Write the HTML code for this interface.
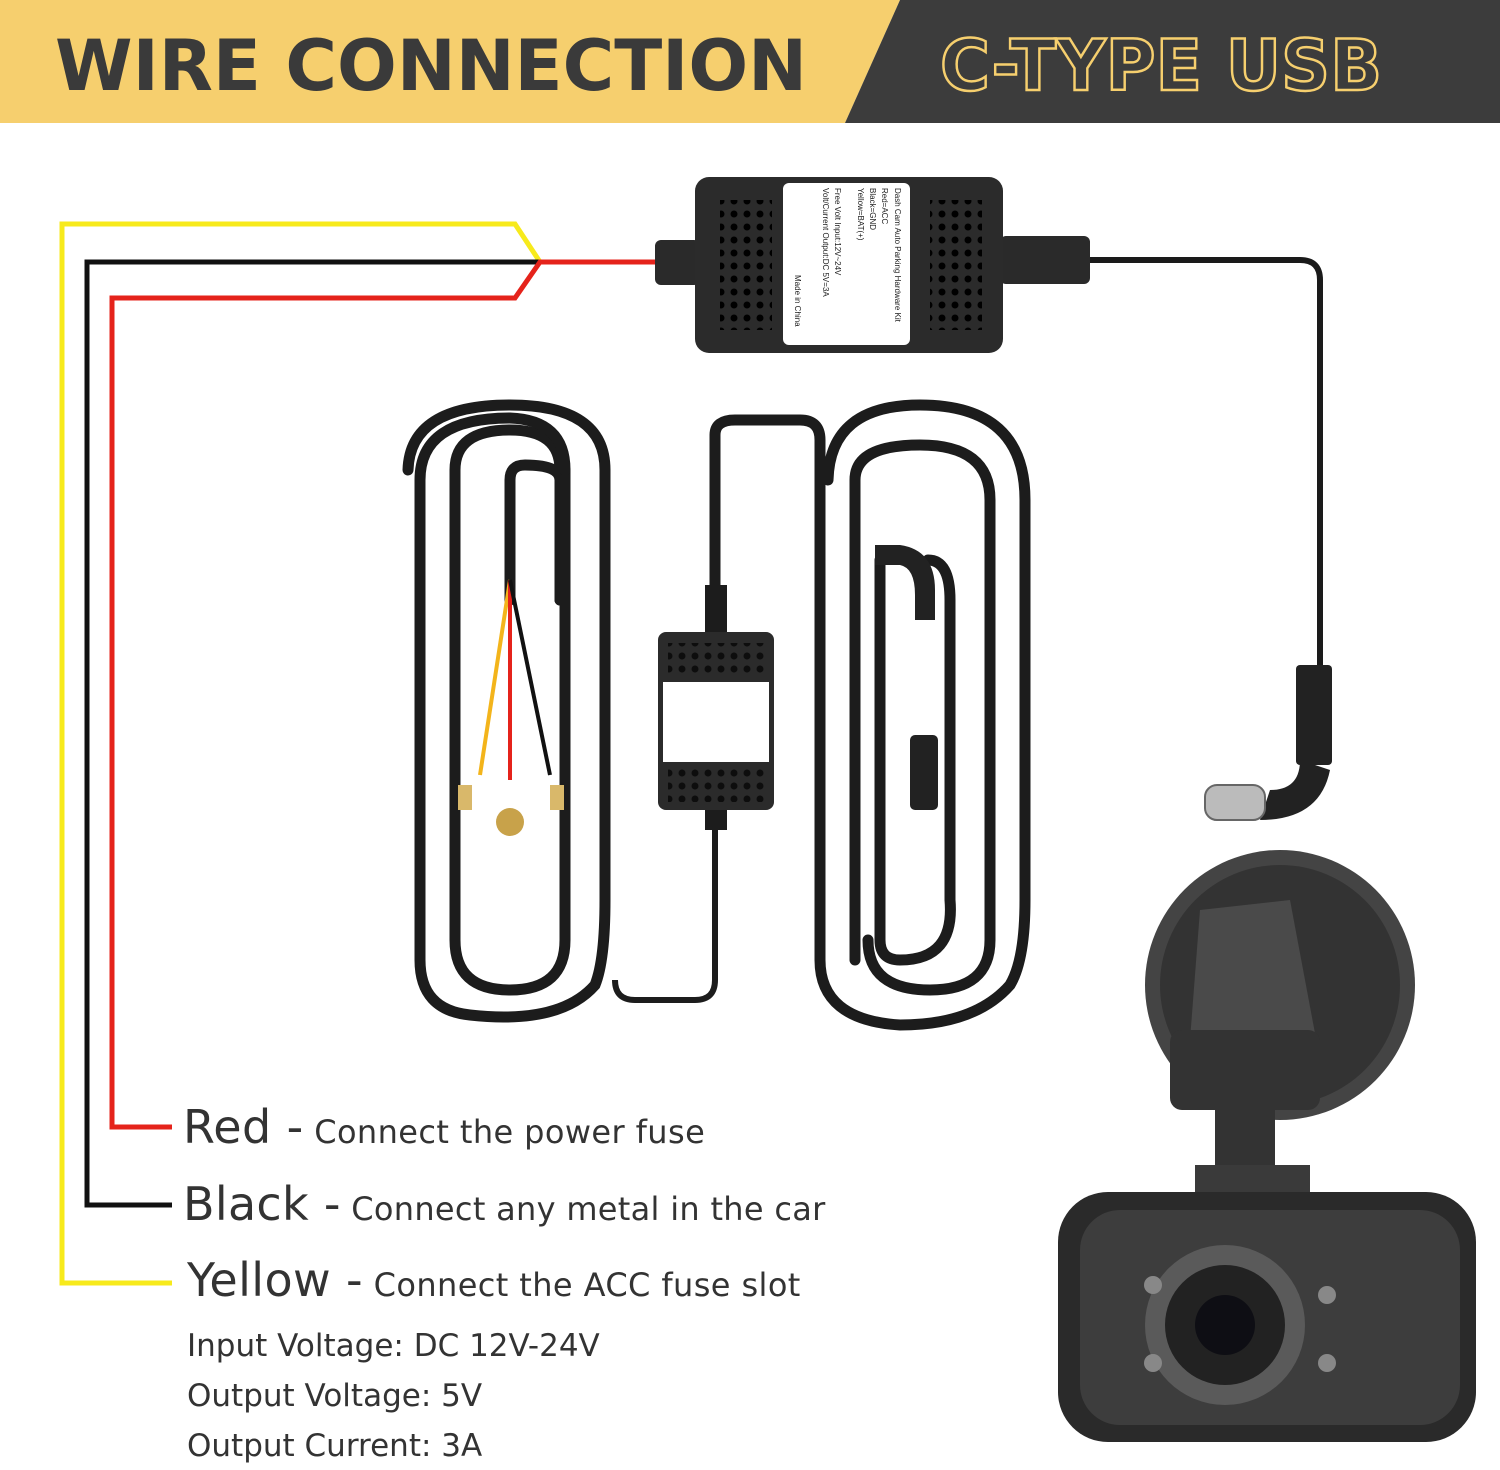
<!DOCTYPE html>
<html><head><meta charset="utf-8"><style>
html,body{margin:0;padding:0;background:#fff;}
body{width:1500px;height:1470px;overflow:hidden;position:relative;font-family:"Liberation Sans","DejaVu Sans",sans-serif;}
svg{position:absolute;left:0;top:0;}
.t{position:absolute;color:#333;white-space:nowrap;font-family:"DejaVu Sans","Liberation Sans",sans-serif;}
</style></head><body>
<svg width="1500" height="1470" viewBox="0 0 1500 1470">
<polygon points="0,0 900,0 845,123 0,123" fill="#F6CF6E"/>
<polygon points="900,0 1500,0 1500,123 845,123" fill="#3c3c3c"/>
<text x="55" y="90" font-family="DejaVu Sans, Liberation Sans, sans-serif" font-weight="bold" font-size="70" fill="#3a3a3a" textLength="752" lengthAdjust="spacingAndGlyphs">WIRE CONNECTION</text>
<text x="940" y="90" font-family="DejaVu Sans, Liberation Sans, sans-serif" font-weight="bold" font-size="70" fill="none" stroke="#F6CF6E" stroke-width="2.5" textLength="442" lengthAdjust="spacingAndGlyphs">C-TYPE USB</text>
<polyline points="172,1283 62,1283 62,224 515,224 540,262" fill="none" stroke="#F7EA1C" stroke-width="5"/>
<polyline points="172,1205 87,1205 87,262 655,262" fill="none" stroke="#111" stroke-width="5"/>
<polyline points="172,1127 112,1127 112,298 515,298 540,262 655,262" fill="none" stroke="#E5231B" stroke-width="5"/>
<rect x="655" y="240" width="45" height="45" rx="6" fill="#2a2a2a"/>
<rect x="1000" y="236" width="90" height="48" rx="6" fill="#2a2a2a"/>
<path d="M1090,260 H1300 Q1320,260 1320,280 V670" fill="none" stroke="#1a1a1a" stroke-width="6"/>
<rect x="1296" y="665" width="36" height="100" rx="4" fill="#222"/>
<path d="M1300,760 Q1300,790 1270,790 L1260,820 Q1320,820 1330,770 Z" fill="#222"/>
<rect x="1205" y="785" width="60" height="35" rx="12" fill="#bbb" stroke="#666" stroke-width="2"/>
<rect x="695" y="177" width="308" height="176" rx="14" fill="#2b2b2b"/>
<rect x="783" y="183" width="127" height="162" rx="6" fill="#fff"/>
<pattern id="h" width="13" height="13" patternUnits="userSpaceOnUse"><circle cx="6" cy="6" r="3.5" fill="#000"/></pattern>
<rect x="720" y="200" width="52" height="130" fill="url(#h)"/>
<rect x="930" y="200" width="52" height="130" fill="url(#h)"/>
<g font-size="8" fill="#222" font-family="Liberation Sans, sans-serif">
<text transform="translate(895,188) rotate(90)">Dash Cam Auto Parking Hardware Kit</text>
<text transform="translate(882,188) rotate(90)">Red=ACC</text>
<text transform="translate(870,188) rotate(90)">Black=GND</text>
<text transform="translate(858,188) rotate(90)">Yellow=BAT(+)</text>
<text transform="translate(835,188) rotate(90)">Free Volt Input:12V~24V</text>
<text transform="translate(823,188) rotate(90)">Volt/Current Output:DC 5V=3A</text>
<text transform="translate(795,275) rotate(90)">Made in China</text>
</g>
<g fill="none" stroke="#1c1c1c" stroke-width="11" stroke-linecap="round">
<path d="M510,600 V480 Q510,465 525,465 Q560,465 560,480 V600"/>
<path d="M560,600 V470 Q560,430 510,430 Q455,430 455,470 V940 Q455,990 510,990 Q565,990 565,940 V470"/>
<path d="M565,470 Q565,420 510,418 Q420,418 420,480 V960 Q420,1010 470,1015 Q560,1025 595,985 Q605,960 605,900 V470 Q605,405 510,405 Q410,405 408,470"/>
<path d="M715,600 V435 Q715,420 735,420 H800 Q820,420 820,440 V960 Q820,1020 900,1025 Q975,1025 1010,985 Q1025,960 1025,900 V500 Q1025,405 920,405 Q830,405 828,480"/>
<path d="M855,960 V480 Q855,445 920,445 Q990,445 990,500 V940 Q990,990 930,990 Q868,990 868,940"/>
<path d="M928,560 Q950,560 950,600 V900 Q955,960 900,960 Q880,960 880,940 V560"/>
</g>
<path d="M715,820 V980 Q715,1000 695,1000 H635 Q615,1000 615,980" fill="none" stroke="#1c1c1c" stroke-width="6"/>
<g fill="none" stroke-width="4">
<path d="M510,580 L480,775" stroke="#F3B41B"/>
<path d="M510,580 L510,780" stroke="#E5231B"/>
<path d="M510,580 L550,775" stroke="#111"/>
</g>
<circle cx="510" cy="822" r="14" fill="#C8A24A"/>
<rect x="458" y="785" width="14" height="25" fill="#D9B86A"/>
<rect x="550" y="785" width="14" height="25" fill="#D9B86A"/>
<rect x="705" y="585" width="22" height="55" fill="#1c1c1c"/>
<rect x="705" y="800" width="22" height="30" fill="#1c1c1c"/>
<rect x="658" y="632" width="116" height="178" rx="8" fill="#2b2b2b"/>
<rect x="663" y="682" width="106" height="80" fill="#fff"/>
<rect x="668" y="643" width="96" height="34" fill="url(#h)" opacity=".7"/>
<rect x="668" y="768" width="96" height="34" fill="url(#h)" opacity=".7"/>
<rect x="910" y="735" width="28" height="75" rx="5" fill="#222"/>
<path d="M875,545 H900 Q935,550 935,590 V620 H915 V595 Q915,568 900,565 H875 Z" fill="#222"/>
<ellipse cx="1280" cy="985" rx="135" ry="135" fill="#444"/>
<ellipse cx="1280" cy="985" rx="120" ry="120" fill="#333"/>
<path d="M1200,910 L1290,900 L1320,1060 L1250,1100 L1190,1040 Z" fill="#4a4a4a"/>
<rect x="1170" y="1030" width="150" height="80" rx="12" fill="#333"/>
<rect x="1215" y="1100" width="60" height="80" fill="#333"/>
<rect x="1195" y="1165" width="115" height="30" fill="#3a3a3a"/>
<rect x="1058" y="1192" width="418" height="250" rx="50" fill="#2a2a2a"/>
<rect x="1080" y="1210" width="380" height="215" rx="40" fill="#3d3d3d"/>
<circle cx="1225" cy="1325" r="80" fill="#5a5a5a"/>
<circle cx="1225" cy="1325" r="60" fill="#222"/>
<circle cx="1225" cy="1325" r="30" fill="#0e0e14"/>
<circle cx="1153" cy="1285" r="9" fill="#888"/><circle cx="1327" cy="1295" r="9" fill="#888"/>
<circle cx="1153" cy="1363" r="9" fill="#888"/><circle cx="1327" cy="1363" r="9" fill="#888"/>
</svg>
<div class="t" style="left:183px;top:1100px;font-size:32px;letter-spacing:0.4px"><span style="font-size:46px">Red -</span> Connect the power fuse</div>
<div class="t" style="left:183px;top:1177px;font-size:32px;letter-spacing:0.3px"><span style="font-size:46px">Black -</span> Connect any metal in the car</div>
<div class="t" style="left:187px;top:1253px;font-size:32px;letter-spacing:0.4px"><span style="font-size:46px">Yellow -</span> Connect the ACC fuse slot</div>
<div class="t" style="left:187px;top:1328px;font-size:31px;">Input Voltage: DC 12V-24V</div>
<div class="t" style="left:187px;top:1378px;font-size:31px;">Output Voltage: 5V</div>
<div class="t" style="left:187px;top:1428px;font-size:31px;">Output Current: 3A</div>
</body></html>
